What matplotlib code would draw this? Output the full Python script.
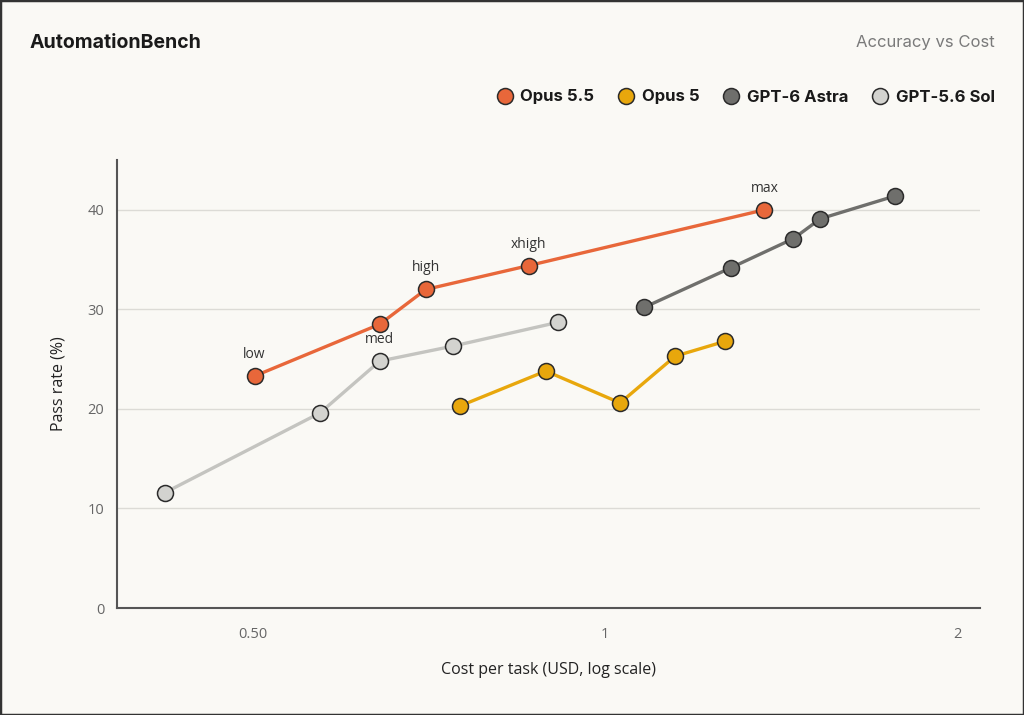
import matplotlib.pyplot as plt
from matplotlib.lines import Line2D
from matplotlib.patches import Rectangle
from matplotlib.ticker import FixedLocator, NullLocator

# ==========================================================
# Data
# ==========================================================
opus55_cost = [0.502, 0.642, 0.703, 0.861, 1.368]
opus55_pass = [23.3, 28.5, 32.0, 34.4, 40.0]

opus5_cost = [0.752, 0.890, 1.030, 1.148, 1.267]
opus5_pass = [20.3, 23.8, 20.6, 25.3, 26.8]

astra_cost = [1.080, 1.282, 1.448, 1.527, 1.770]
astra_pass = [30.2, 34.2, 37.1, 39.1, 41.4]

sol_cost = [0.421, 0.571, 0.642, 0.741, 0.912]
sol_pass = [11.6, 19.6, 24.8, 26.3, 28.7]

# effort labels: (text, series, point index)
effort_labels = [("low", "opus55", 0), ("med", "sol", 2), ("high", "opus55", 2),
                 ("xhigh", "opus55", 3), ("max", "opus55", 4)]

x_ticks = [0.5, 1, 2]
x_tick_labels = ["0.50", "1", "2"]
y_ticks = [0, 10, 20, 30, 40]

series = {
    "opus55": ("Opus 5.5", opus55_cost, opus55_pass, "#E8673A", "#E8673A"),
    "opus5": ("Opus 5", opus5_cost, opus5_pass, "#E8A70C", "#E8A70C"),
    "astra": ("GPT-6 Astra", astra_cost, astra_pass, "#6F6F6C", "#6F6F6C"),
    "sol": ("GPT-5.6 Sol", sol_cost, sol_pass, "#D3D3CF", "#C4C4C0"),
}

BG = "#FAF9F5"
SANS = ['Open Sans', 'DejaVu Sans']
plt.rcParams['font.family'] = ['Inter', 'DejaVu Sans']

fig = plt.figure(figsize=(10.24, 7.15), dpi=100, facecolor=BG)
ax = fig.add_axes([117/1024, 1 - 608/715, (980-117)/1024, (608-160)/715])
ax.set_facecolor(BG)

for key in ["opus55", "opus5", "astra", "sol"]:
    name, xs, ys, fc, lc = series[key]
    ax.plot(xs, ys, color=lc, lw=2.4, zorder=2)
    ax.plot(xs, ys, ls='none', marker='o', ms=11.5, mfc=fc, mec='#2B2B2B',
            mew=1.1, zorder=3)

for text, key, i in effort_labels:
    _, xs, ys, _, _ = series[key]
    ax.annotate(text, (xs[i], ys[i]), xytext=(0, 15.5), textcoords='offset points',
                ha='center', va='center', fontsize=10, color='#333333',
                family=SANS)

ax.set_xscale('log')
ax.set_xlim(0.383, 2.09)
ax.set_ylim(0, 45)
ax.xaxis.set_major_locator(FixedLocator(x_ticks))
ax.xaxis.set_minor_locator(NullLocator())
ax.set_xticklabels(x_tick_labels)
ax.set_yticks(y_ticks)

for v in y_ticks[1:]:
    ax.axhline(v, color='#DCDBD6', lw=1.0, zorder=1)

for s in ['top', 'right']:
    ax.spines[s].set_visible(False)
for s in ['left', 'bottom']:
    ax.spines[s].set_color('#555555')
    ax.spines[s].set_linewidth(1.5)

ax.tick_params(axis='both', length=0, colors='#666666', labelsize=10.5)
ax.tick_params(axis='x', pad=14)
ax.tick_params(axis='y', pad=9)
for lab in ax.get_xticklabels() + ax.get_yticklabels():
    lab.set_family(SANS)

ax.set_xlabel("Cost per task (USD, log scale)", fontsize=11.5, color='#222222',
              labelpad=14, family=SANS)
ax.set_ylabel("Pass rate (%)", fontsize=11.5, color='#222222', labelpad=15,
              family=SANS)

# header
fig.text(30/1024, 1 - 43/715, "AutomationBench", fontsize=14, fontweight='bold',
         color='#1A1A1A', va='center', ha='left')
fig.text(995/1024, 1 - 43/715, "Accuracy vs Cost", fontsize=12, color='#7A7A7A',
         va='center', ha='right')

# legend
handles = []
for key in ["opus55", "opus5", "astra", "sol"]:
    name, _, _, fc, _ = series[key]
    handles.append(Line2D([], [], ls='none', marker='o', ms=11.5, mfc=fc,
                          mec='#2B2B2B', mew=1.1, label=name))
leg = fig.legend(handles=handles, loc='center right', ncol=4, frameon=False,
                 bbox_to_anchor=(1010/1024, 1 - 97/715), handletextpad=0.45,
                 columnspacing=1.4, handlelength=1.0,
                 prop={'size': 12, 'weight': 'bold'})
for t in leg.get_texts():
    t.set_color('#1A1A1A')

fig.add_artist(Rectangle((0, 0), 1, 1, transform=fig.transFigure, fill=False,
                         edgecolor='#333333', lw=2.5))

fig.savefig("out.png", dpi=100, facecolor=BG)
